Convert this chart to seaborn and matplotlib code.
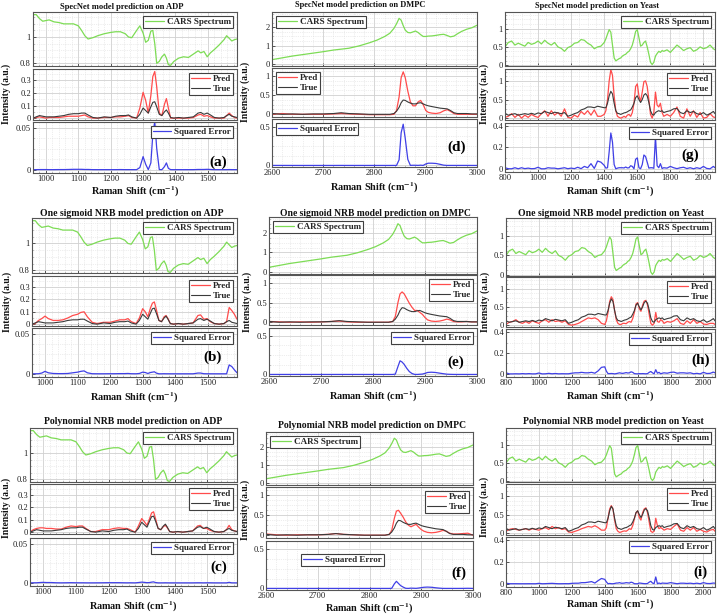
import numpy as np
import matplotlib
matplotlib.use("Agg")
import matplotlib.pyplot as plt
import seaborn as sns
from matplotlib.ticker import MultipleLocator

# ---------------- data ----------------
adp_x = [960, 970, 980, 990, 1000, 1010, 1025, 1040, 1055, 1070, 1085,
         1100, 1110, 1120, 1130, 1145, 1160, 1180, 1200, 1215, 1230, 1245, 1255, 1265,
         1280, 1290, 1300, 1308, 1316, 1324, 1330, 1336, 1342, 1350, 1358, 1366, 1372,
         1378, 1385, 1395, 1410, 1425, 1440, 1455, 1470, 1478, 1488, 1498, 1508, 1520,
         1535, 1550, 1558, 1566, 1574, 1582, 1590]
adp_cars = [1.17, 1.17, 1.14, 1.12, 1.125, 1.13, 1.115, 1.11, 1.10, 1.10, 1.10,
            1.085, 1.05, 1.01, 0.985, 0.995, 1.01, 1.025, 1.035, 1.04, 1.04, 1.025, 1.0, 0.995,
            1.05, 1.085, 1.03, 0.96, 0.975, 1.045, 1.05, 0.95, 0.80, 0.815, 0.85, 0.87, 0.84,
            0.79, 0.785, 0.815, 0.84, 0.85, 0.845, 0.87, 0.895, 0.88, 0.89, 0.85, 0.88, 0.905,
            0.94, 0.98, 1.01, 0.99, 0.97, 0.98, 0.985]
adp_true = [0.0, 0.01, 0.02, 0.015, 0.01, 0.01, 0.01, 0.015, 0.02, 0.03, 0.035,
            0.035, 0.04, 0.04, 0.025, 0.005, 0.0, 0.01, 0.005, 0.015, 0.02, 0.02, 0.025, 0.01,
            0.0, 0.03, 0.08, 0.06, 0.04, 0.09, 0.125, 0.13, 0.09, 0.03, 0.02, 0.05, 0.065,
            0.04, 0.005, 0.0, 0.005, 0.0, 0.005, 0.01, 0.04, 0.045, 0.03, 0.04, 0.025, 0.005,
            0.0, 0.005, 0.02, 0.03, 0.015, 0.01, 0.005]
adp_pred_specnet = [0.0, 0.005, 0.01, 0.005, 0.0, 0.005, 0.005, 0.005, 0.01, 0.015, 0.015,
                    0.015, 0.02, 0.025, 0.01, 0.0, 0.0, 0.005, 0.005, 0.01, 0.01, 0.015, 0.02, 0.005,
                    0.0, 0.08, 0.205, 0.14, 0.04, 0.18, 0.33, 0.37, 0.25, 0.04, 0.02, 0.11, 0.155,
                    0.08, 0.0, 0.0, 0.0, 0.0, 0.0, 0.005, 0.025, 0.03, 0.015, 0.02, 0.01, 0.0,
                    0.0, 0.0, 0.02, 0.04, 0.02, 0.005, 0.0]
adp_pred_sigmoid = [0.0, 0.005, 0.03, 0.045, 0.065, 0.045, 0.03, 0.03, 0.035, 0.05, 0.07,
                    0.08, 0.095, 0.1, 0.06, 0.015, 0.005, 0.015, 0.015, 0.025, 0.035, 0.035, 0.045, 0.02,
                    0.005, 0.05, 0.125, 0.1, 0.06, 0.13, 0.17, 0.18, 0.12, 0.03, 0.02, 0.06, 0.07,
                    0.045, 0.005, 0.0, 0.005, 0.0, 0.005, 0.01, 0.07, 0.075, 0.04, 0.045, 0.02, 0.005,
                    0.0, 0.005, 0.02, 0.135, 0.11, 0.08, 0.04]
adp_pred_poly = [0.0, 0.02, 0.03, 0.035, 0.035, 0.03, 0.03, 0.025, 0.025, 0.04, 0.05,
                 0.045, 0.05, 0.05, 0.03, 0.005, 0.005, 0.02, 0.02, 0.03, 0.035, 0.03, 0.03, 0.02,
                 0.0, 0.05, 0.11, 0.085, 0.055, 0.11, 0.155, 0.165, 0.11, 0.03, 0.02, 0.045, 0.055,
                 0.035, 0.005, 0.0, 0.005, 0.0, 0.005, 0.01, 0.05, 0.055, 0.03, 0.03, 0.015, 0.005,
                 0.0, 0.005, 0.02, 0.055, 0.02, 0.01, 0.005]

dmpc_x = [2600, 2620, 2640, 2660, 2680, 2700, 2720, 2735, 2750, 2770,
          2790, 2805, 2820, 2830, 2838, 2843, 2848, 2852, 2856, 2860,
          2865, 2870, 2875, 2880, 2885, 2890, 2895, 2900, 2905, 2912,
          2920, 2928, 2935, 2942, 2948, 2955, 2962, 2970, 2980, 2990, 3000]
dmpc_cars = [0.22, 0.32, 0.42, 0.5, 0.58, 0.66, 0.75, 0.8, 0.85, 0.98,
             1.15, 1.3, 1.5, 1.68, 1.95, 2.2, 2.5, 2.4, 2.1, 1.85,
             1.72, 1.7, 1.75, 1.8, 1.72, 1.6, 1.5, 1.5, 1.52, 1.53,
             1.56, 1.6, 1.62, 1.55, 1.48, 1.52, 1.65, 1.78, 1.9, 1.98, 2.12]
dmpc_true = [0.02, 0.0, 0.01, 0.0, 0.01, 0.01, 0.02, 0.04, 0.02, 0.01,
             0.0, 0.0, 0.0, 0.0, 0.02, 0.08, 0.18, 0.3, 0.37, 0.36,
             0.32, 0.29, 0.27, 0.27, 0.29, 0.3, 0.27, 0.24, 0.22, 0.2,
             0.18, 0.16, 0.15, 0.14, 0.1, 0.04, 0.02, 0.02, 0.02, 0.01, 0.01]
dmpc_pred_specnet = [0.0, 0.02, 0.0, 0.0, 0.0, 0.0, 0.01, 0.02, 0.01, 0.0,
                     -0.01, -0.01, -0.01, -0.01, 0.0, 0.1, 0.45, 0.95, 1.1, 0.95,
                     0.6, 0.32, 0.22, 0.22, 0.32, 0.36, 0.25, 0.1, 0.05, 0.03,
                     0.02, 0.04, 0.09, 0.12, 0.08, 0.02, 0.0, 0.0, 0.0, 0.0, 0.0]
dmpc_pred_sigmoid = [0.02, 0.01, 0.0, 0.01, 0.0, 0.01, 0.02, 0.03, 0.01, 0.0,
                     0.0, 0.0, 0.0, 0.0, 0.02, 0.15, 0.5, 0.72, 0.77, 0.72,
                     0.6, 0.48, 0.38, 0.3, 0.3, 0.25, 0.2, 0.12, 0.06, 0.03,
                     0.02, 0.03, 0.05, 0.08, 0.06, 0.02, 0.01, 0.01, 0.02, 0.01, 0.01]
dmpc_pred_poly = [0.03, 0.01, 0.0, 0.01, 0.01, 0.01, 0.02, 0.04, 0.02, 0.01,
                  0.0, 0.0, 0.0, 0.0, 0.02, 0.12, 0.42, 0.6, 0.62, 0.55,
                  0.45, 0.33, 0.25, 0.21, 0.24, 0.27, 0.2, 0.14, 0.1, 0.07,
                  0.06, 0.07, 0.09, 0.12, 0.1, 0.05, 0.03, 0.03, 0.04, 0.05, 0.0]

yeast_x = [800, 820, 840, 860, 880, 900, 920, 940, 960, 980,
           1000, 1020, 1040, 1060, 1080, 1100, 1120, 1140, 1160, 1180,
           1200, 1220, 1240, 1260, 1280, 1300, 1320, 1340, 1360, 1380,
           1400, 1410, 1420, 1430, 1440, 1450, 1460, 1470, 1480, 1490,
           1500, 1510, 1520, 1530, 1540, 1550, 1560, 1570, 1580, 1590,
           1600, 1610, 1620, 1630, 1640, 1650, 1660, 1670, 1680, 1690,
           1700, 1710, 1720, 1730, 1740, 1750, 1760, 1780, 1800, 1820,
           1840, 1860, 1880, 1900, 1920, 1940, 1960, 1980, 2000, 2020,
           2040, 2060, 2070]
yeast_cars = [0.5, 0.62, 0.66, 0.55, 0.6, 0.56, 0.52, 0.62, 0.57, 0.6,
              0.66, 0.58, 0.68, 0.6, 0.55, 0.62, 0.5, 0.46, 0.38, 0.48,
              0.52, 0.6, 0.62, 0.7, 0.68, 0.6, 0.55, 0.45, 0.5, 0.52,
              0.62, 0.72, 0.85, 0.97, 0.9, 0.55, 0.2, 0.12, 0.15, 0.18,
              0.2, 0.25, 0.28, 0.3, 0.35, 0.38, 0.45, 0.55, 0.72, 0.92,
              0.97, 0.75, 0.52, 0.55, 0.62, 0.66, 0.5, 0.3, 0.08, 0.02,
              0.08, 0.25, 0.32, 0.38, 0.35, 0.4, 0.38, 0.42, 0.35, 0.45,
              0.55, 0.48, 0.4, 0.45, 0.48, 0.38, 0.42, 0.5, 0.45, 0.48,
              0.55, 0.45, 0.42]
yeast_true = [0.12, 0.08, 0.1, 0.12, 0.08, 0.1, 0.12, 0.1, 0.13, 0.1,
              0.14, 0.12, 0.18, 0.15, 0.12, 0.16, 0.14, 0.12, 0.15, 0.05,
              0.08, 0.12, 0.15, 0.22, 0.25, 0.3, 0.3, 0.28, 0.32, 0.3,
              0.28, 0.28, 0.4, 0.6, 0.72, 0.65, 0.4, 0.2, 0.13, 0.12,
              0.1, 0.12, 0.14, 0.15, 0.17, 0.2, 0.22, 0.3, 0.4, 0.55,
              0.6, 0.5, 0.42, 0.5, 0.62, 0.66, 0.6, 0.42, 0.2, 0.1,
              0.08, 0.15, 0.18, 0.2, 0.18, 0.2, 0.15, 0.18, 0.2, 0.25,
              0.26, 0.15, 0.12, 0.2, 0.15, 0.18, 0.12, 0.1, 0.15, 0.08,
              0.12, 0.18, 0.12]
yeast_pred_specnet = [0.02, 0.05, 0.12, 0.02, 0.1, 0.0, 0.08, 0.02, 0.1, 0.05,
                      0.02, 0.12, 0.2, 0.05, 0.2, 0.08, 0.15, 0.05, 0.25, 0.02,
                      0.0, 0.08, 0.03, 0.18, 0.1, 0.2, 0.08, 0.22, 0.05, 0.05,
                      0.1, 0.2, 0.5, 1.0, 1.3, 1.15, 0.6, 0.2, 0.05, 0.02,
                      0.0, 0.02, 0.05, 0.02, 0.08, 0.1, 0.05, 0.15, 0.4, 0.85,
                      0.92, 0.6, 0.45, 0.7, 0.98, 1.0, 0.85, 0.5, 0.1, 0.0,
                      0.15, 0.7, 0.35, 0.3, 0.4, 0.15, 0.05, 0.1, 0.05, 0.15,
                      0.3, 0.05, 0.0, 0.25, 0.05, 0.2, 0.02, 0.15, 0.0, 0.02,
                      0.12, 0.03, 0.02]
yeast_pred_sigmoid = [0.02, 0.08, 0.1, 0.15, 0.08, 0.05, 0.1, 0.05, 0.12, 0.08,
                      0.05, 0.12, 0.15, 0.08, 0.15, 0.1, 0.12, 0.08, 0.12, 0.02,
                      0.0, 0.02, 0.05, 0.1, 0.15, 0.2, 0.18, 0.2, 0.15, 0.05,
                      0.02, 0.12, 0.35, 0.65, 0.78, 0.7, 0.4, 0.15, 0.05, 0.02,
                      0.02, 0.05, 0.05, 0.04, 0.08, 0.1, 0.08, 0.18, 0.35, 0.58,
                      0.62, 0.45, 0.38, 0.55, 0.66, 0.68, 0.55, 0.3, 0.05, 0.0,
                      0.05, 0.35, 0.1, 0.08, 0.15, 0.12, 0.05, 0.1, 0.08, 0.12,
                      0.18, 0.05, 0.02, 0.12, 0.05, 0.15, 0.05, 0.1, 0.03, 0.02,
                      0.05, 0.05, 0.02]
yeast_pred_poly = [0.05, 0.1, 0.12, 0.1, 0.08, 0.1, 0.12, 0.08, 0.12, 0.1,
                   0.08, 0.12, 0.15, 0.1, 0.18, 0.12, 0.15, 0.1, 0.12, 0.03,
                   0.02, 0.05, 0.08, 0.12, 0.15, 0.18, 0.16, 0.2, 0.15, 0.08,
                   0.08, 0.15, 0.4, 0.65, 0.74, 0.65, 0.35, 0.12, 0.05, 0.02,
                   0.03, 0.05, 0.06, 0.05, 0.08, 0.12, 0.1, 0.2, 0.38, 0.55,
                   0.6, 0.42, 0.35, 0.55, 0.65, 0.68, 0.55, 0.3, 0.05, 0.02,
                   0.05, 0.4, 0.2, 0.12, 0.15, 0.12, 0.08, 0.12, 0.1, 0.18,
                   0.25, 0.08, 0.05, 0.15, 0.08, 0.15, 0.05, 0.1, 0.05, 0.03,
                   0.08, 0.1, 0.05]

model_names = ["SpecNet model", "One sigmoid NRB model", "Polynomial NRB model"]
dataset_names = ["ADP", "DMPC", "Yeast"]

# ---------------- style ----------------
sns.set_theme(style="white")
plt.rcParams['font.family'] = ['Liberation Serif', 'DejaVu Serif']
plt.rcParams['mathtext.fontset'] = 'stix'

C_CARS = '#7ddc55'
C_PRED = '#ff4c4c'
C_TRUE = '#3a3a3a'
C_ERR = '#4040e6'

W, H = 718, 616
fig = plt.figure(figsize=(W / 100, H / 100), dpi=100)
fig.patch.set_facecolor('white')

datasets = {
    'ADP': dict(x=adp_x, cars=adp_cars, true=adp_true,
                preds=[adp_pred_specnet, adp_pred_sigmoid, adp_pred_poly],
                xlim=(960, 1590), xticks=[1000, 1100, 1200, 1300, 1400, 1500], xminor=20,
                ylims=[(0.78, 1.19), (-0.015, 0.39), (-0.004, 0.057)],
                yticks=[([0.8, 1.0], ['0.8', '1']),
                        ([0, 0.1, 0.2, 0.3], ['0', '0.1', '0.2', '0.3']),
                        ([0, 0.05], ['0', '0.05'])],
                yminor=[0.05, 0.05, 0.0125]),
    'DMPC': dict(x=dmpc_x, cars=dmpc_cars, true=dmpc_true,
                 preds=[dmpc_pred_specnet, dmpc_pred_sigmoid, dmpc_pred_poly],
                 xlim=(2600, 3000), xticks=[2600, 2700, 2800, 2900, 3000], xminor=20,
                 ylims=[(-0.13, 2.85), (-0.07, 1.2), (-0.02, 0.6)],
                 yticks=[([0, 1, 2], ['0', '1', '2']),
                         ([0, 0.5, 1], ['0', '0.5', '1']),
                         ([0, 0.5], ['0', '0.5'])],
                 yminor=[0.25, 0.125, 0.125]),
    'Yeast': dict(x=yeast_x, cars=yeast_cars, true=yeast_true,
                  preds=[yeast_pred_specnet, yeast_pred_sigmoid, yeast_pred_poly],
                  xlim=(800, 2070), xticks=[800, 1000, 1200, 1400, 1600, 1800, 2000], xminor=50,
                  ylims=[(-0.02, 1.45), (-0.05, 1.32), (-0.03, 0.43)],
                  yticks=[([0, 0.5, 1], ['0', '0.5', '1']),
                          ([0, 0.5, 1], ['0', '0.5', '1']),
                          ([0, 0.2, 0.4], ['0', '0.2', '0.4'])],
                  yminor=[0.125, 0.125, 0.1]),
}

# layout (pixel boxes): left, right, [top/bottom of the three stacked axes]
panels = [
    dict(ds='ADP', m=0, L=33, R=237, ys=[12, 66, 69, 120, 122, 173], ty=7, tx=122, ts=6.1,
         xy=192, yl=(6, 94), letter='(a)', lp=(0.91, 0.22),
         legs=['upper right', 'upper right', 'upper right']),
    dict(ds='DMPC', m=0, L=272, R=477, ys=[12, 66, 68, 117, 119, 167], ty=5, tx=360, ts=6.0,
         xy=188, yl=(245, 92), letter='(d)', lp=(0.9, 0.42),
         legs=['upper left', 'upper left', 'upper left']),
    dict(ds='Yeast', m=0, L=505, R=715, ys=[12, 66, 69, 120, 123, 172], ty=6, tx=597, ts=6.0,
         xy=192, yl=(484, 94), letter='(g)', lp=(0.88, 0.35),
         legs=['upper right', 'upper right', 'upper right']),
    dict(ds='ADP', m=1, L=32, R=237, ys=[218, 273, 276, 326, 328, 377], ty=213, tx=132, ts=7.0,
         xy=398, yl=(7, 302), letter='(b)', lp=(0.88, 0.4),
         legs=['upper right', 'upper right', 'upper right']),
    dict(ds='DMPC', m=1, L=269, R=477, ys=[217, 274, 275, 325, 328, 376], ty=213, tx=375, ts=6.9,
         xy=397, yl=(247, 302), letter='(e)', lp=(0.9, 0.29),
         legs=['upper left', 'upper right', 'upper right']),
    dict(ds='Yeast', m=1, L=506, R=715, ys=[218, 276, 277, 327, 329, 377], ty=213, tx=611, ts=7.0,
         xy=397, yl=(485, 302), letter='(h)', lp=(0.93, 0.35),
         legs=['upper right', 'upper right', 'upper right']),
    dict(ds='ADP', m=2, L=30, R=237, ys=[428, 482, 484, 534, 538, 586], ty=422, tx=133, ts=7.0,
         xy=607, yl=(6, 508), letter='(c)', lp=(0.91, 0.4),
         legs=['upper right', 'upper right', 'upper right']),
    dict(ds='DMPC', m=2, L=266, R=473, ys=[432, 485, 487, 538, 541, 590], ty=425, tx=372, ts=7.0,
         xy=609, yl=(245, 510), letter='(f)', lp=(0.93, 0.35),
         legs=['upper left', 'upper right', ('upper left', (0.15, 0.82))]),
    dict(ds='Yeast', m=2, L=506, R=715, ys=[428, 482, 484, 535, 537, 587], ty=422, tx=613, ts=7.0,
         xy=605, yl=(484, 507), letter='(i)', lp=(0.93, 0.3),
         legs=['upper right', 'upper right', 'upper right']),
]


def add_ax(L, R, top, bot):
    return fig.add_axes([L / W, 1 - bot / H, (R - L) / W, (bot - top) / H])


def style(ax, d, k, show_x):
    ax.set_xlim(d['xlim'])
    ax.set_ylim(d['ylims'][k])
    yt, ytl = d['yticks'][k]
    ax.set_yticks(yt)
    ax.set_yticklabels(ytl)
    ax.set_xticks(d['xticks'])
    ax.set_xticklabels([str(t) for t in d['xticks']])
    ax.xaxis.set_minor_locator(MultipleLocator(d['xminor']))
    ax.yaxis.set_minor_locator(MultipleLocator(d['yminor'][k]))
    ax.grid(which='major', color='#d0d0d0', lw=0.6, ls='-')
    ax.grid(which='minor', color='#dcdcdc', lw=0.5, ls=':')
    ax.set_axisbelow(True)
    ax.tick_params(which='major', direction='in', length=2, width=0.5, labelsize=6.1,
                   pad=1.5, colors='#202020', left=True, bottom=True)
    ax.tick_params(which='minor', direction='in', length=1, width=0.4, left=True, bottom=True)
    if not show_x:
        ax.tick_params(labelbottom=False)
    for s in ax.spines.values():
        s.set_color('#555555')
        s.set_linewidth(0.8)
    ax.set_xlabel('')
    ax.set_ylabel('')
    ax.set_facecolor('white')


def legend(ax, spec):
    if isinstance(spec, tuple):
        loc, anchor = spec
    else:
        loc, anchor = spec, None
    kw = dict(loc=loc, prop={'weight': 'bold', 'size': 6.5}, frameon=True, fancybox=False,
              framealpha=1, handlelength=2.1, handletextpad=0.3, borderpad=0.22,
              labelspacing=0.12, borderaxespad=0.45)
    if anchor is not None:
        kw['bbox_to_anchor'] = anchor
    leg = ax.legend(**kw)
    leg.get_frame().set_edgecolor('#404040')
    leg.get_frame().set_linewidth(0.8)
    leg.get_frame().set_facecolor('white')


for p in panels:
    d = datasets[p['ds']]
    x = np.array(d['x'], dtype=float)
    true = np.array(d['true'], dtype=float)
    pred = np.array(d['preds'][p['m']], dtype=float)
    err = (pred - true) ** 2
    ys = p['ys']
    L, R = p['L'], p['R']

    ax1 = add_ax(L, R, ys[0], ys[1])
    sns.lineplot(x=x, y=np.array(d['cars']), ax=ax1, color=C_CARS, lw=0.9,
                 label='CARS Spectrum', estimator=None, sort=False)
    style(ax1, d, 0, False)
    legend(ax1, p['legs'][0])

    ax2 = add_ax(L, R, ys[2], ys[3])
    sns.lineplot(x=x, y=pred, ax=ax2, color=C_PRED, lw=0.9, label='Pred', estimator=None, sort=False)
    sns.lineplot(x=x, y=true, ax=ax2, color=C_TRUE, lw=0.8, label='True', estimator=None, sort=False)
    style(ax2, d, 1, False)
    legend(ax2, p['legs'][1])

    ax3 = add_ax(L, R, ys[4], ys[5])
    sns.lineplot(x=x, y=err, ax=ax3, color=C_ERR, lw=0.9, label='Squared Error',
                 estimator=None, sort=False)
    style(ax3, d, 2, True)
    legend(ax3, p['legs'][2])
    ax3.text(p['lp'][0], p['lp'][1], p['letter'], transform=ax3.transAxes, ha='center',
             va='center', fontsize=11, fontweight='bold', color='black')

    cx = (L + R) / 2 / W
    fig.text(p['tx'] / W, 1 - p['ty'] / H, f"{model_names[p['m']]} prediction on {p['ds']}",
             ha='center', va='center', fontsize=p['ts'], fontweight='bold', color='#111111')
    fig.text(cx, 1 - p['xy'] / H, r'Raman Shift (cm$^{\mathbf{-1}}$)', ha='center', va='center',
             fontsize=7.3, fontweight='bold', color='#111111')
    fig.text(p['yl'][0] / W, 1 - p['yl'][1] / H, 'Intensity (a.u.)', rotation=90,
             ha='center', va='center', fontsize=6.9, fontweight='bold', color='#111111')

fig.savefig('out.png', dpi=100, facecolor='white')
